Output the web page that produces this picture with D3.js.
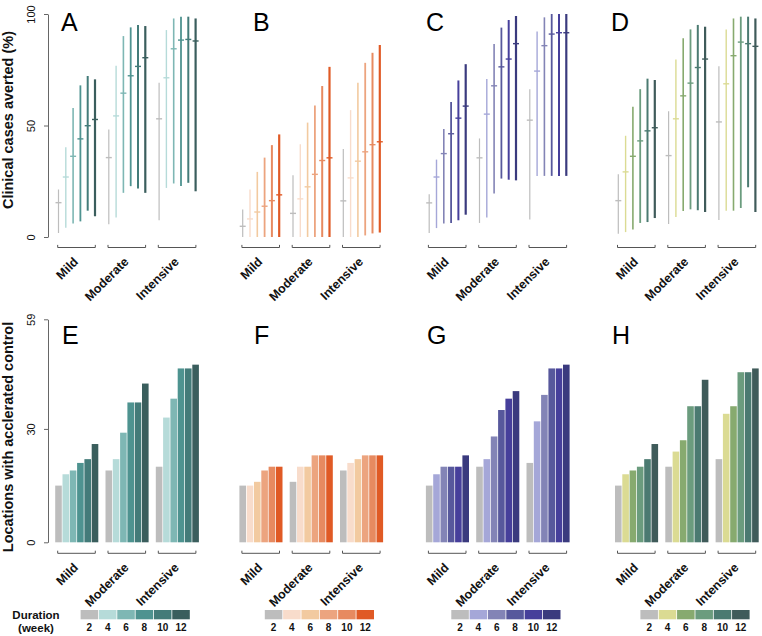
<!DOCTYPE html>
<html><head><meta charset="utf-8">
<script src="https://cdn.jsdelivr.net/npm/d3@7"></script>
<style>body{margin:0;background:#fff}svg{display:block;font-family:"Liberation Sans",Arial,Helvetica,sans-serif}</style>
</head><body><svg id="c" width="762" height="636"></svg>
<script>
// ---------- data ----------
const groups = ["Mild", "Moderate", "Intensive"];
const durations = [2, 4, 6, 8, 10, 12];
const panelLettersTop = ["A", "B", "C", "D"];
const panelLettersBottom = ["E", "F", "G", "H"];
const topTicks = [0, 50, 100];
const bottomTicks = [0, 30, 59];

// Clinical cases averted (%) : median, lower, upper  (per group, per duration)
const midA = [[15.4, 26.9, 36.2, 44.0, 49.9, 52.7], [35.6, 54.3, 64.5, 72.3, 76.5, 80.4], [53.0, 71.4, 84.4, 88.3, 88.6, 87.9]];
const loA  = [[1.8, 4.2, 6.0, 7.0, 11.8, 9.3], [5.7, 8.7, 19.8, 22.8, 21.7, 19.8], [7.5, 22.0, 24.0, 22.9, 24.3, 20.5]];
const hiA  = [[21.3, 40.3, 57.9, 68.0, 72.2, 70.7], [48.2, 76.8, 90.1, 94.0, 95.1, 94.6], [69.2, 92.8, 98.0, 98.8, 98.8, 98.0]];

const midB = [[4.8, 8.1, 11.2, 13.8, 16.3, 18.9], [10.6, 17.1, 22.5, 28.1, 34.3, 35.5], [16.2, 26.5, 34.0, 38.2, 41.4, 42.7]];
const loB  = [[0.0, 0.0, 0.0, 0.0, 0.0, 0.0], [0.0, 0.0, 0.0, 0.0, 0.0, 0.0], [0.0, 0.0, 0.0, 0.7, 1.6, 2.0]];
const hiB  = [[12.3, 21.3, 29.2, 35.6, 41.2, 46.0], [27.7, 41.6, 51.3, 59.0, 67.7, 76.3], [39.5, 56.9, 69.2, 78.1, 82.6, 86.1]];

const midC = [[15.3, 26.9, 37.4, 46.3, 53.3, 58.7], [35.5, 55.1, 67.8, 76.3, 79.8, 86.7], [52.4, 74.4, 85.8, 91.0, 91.6, 91.6]];
const loC  = [[1.8, 4.0, 6.0, 6.3, 7.5, 10.0], [6.3, 8.7, 19.5, 26.2, 25.7, 25.4], [7.9, 27.4, 27.4, 27.4, 27.4, 27.4]];
const hiC  = [[19.2, 34.7, 48.4, 60.5, 70.2, 77.5], [44.2, 70.8, 86.5, 93.9, 97.3, 99.1], [66.2, 92.1, 98.5, 100, 100, 100]];

const midD = [[16.3, 29.2, 36.2, 43.1, 47.6, 49.0], [36.5, 53.0, 63.3, 69.0, 76.0, 79.8], [51.6, 68.7, 81.3, 87.4, 86.7, 85.5]];
const loD  = [[1.5, 2.2, 3.4, 6.3, 6.7, 8.5], [5.8, 9.0, 11.7, 12.4, 12.0, 11.2], [7.6, 11.8, 11.8, 13.0, 22.3, 11.2]];
const hiD  = [[28.1, 45.4, 58.4, 66.3, 71.0, 70.4], [56.4, 79.6, 89.1, 93.1, 95.1, 94.3], [76.6, 93.1, 98.0, 98.8, 98.8, 98.0]];

// Locations with accelerated control (count)
const locE = [[15, 18, 19, 21, 22, 26], [19, 22, 29, 37, 37, 42], [20, 33, 38, 46, 46, 47]];
const locF = [[15, 15, 16, 19, 20, 20], [16, 20, 20, 23, 23, 23], [19, 21, 22, 23, 23, 23]];
const locG = [[15, 18, 20, 20, 20, 23], [20, 22, 28, 35, 38, 40], [21, 32, 39, 46, 46, 47]];
const locH = [[15, 18, 19, 20, 22, 26], [20, 24, 27, 36, 36, 43], [22, 34, 36, 45, 45, 46]];

const tealColors   = ["#bdbdbd", "#b6dbd9", "#7eb7b4", "#4e9390", "#437b79", "#3a5e5d"];
const orangeColors = ["#bdbdbd", "#f8dccb", "#f2caa0", "#eca47f", "#e78a60", "#e05a25"];
const blueColors   = ["#bdbdbd", "#a5a7d8", "#8384b6", "#57589c", "#463f9b", "#3a3a7e"];
const greenColors  = ["#bdbdbd", "#dbdb93", "#87aa6f", "#6b9c7e", "#4b7a71", "#3f5b5a"];

// ---------- layout ----------
const svg = d3.select("#c");
const firstBar = [58.5, 242.7, 429.2, 618.3];
const letterX = [61, 253, 426, 611];
const step = 7.3, groupStep = 50.3;
const yTop = d3.scaleLinear().domain([0, 100]).range([237, 14]);
const yBot = d3.scaleLinear().domain([0, 59]).range([542.3, 319.3]);

const panels = [
  {mid: midA, lo: loA, hi: hiA, loc: locE, col: tealColors},
  {mid: midB, lo: loB, hi: hiB, loc: locF, col: orangeColors},
  {mid: midC, lo: loC, hi: hiC, loc: locG, col: blueColors},
  {mid: midD, lo: loD, hi: hiD, loc: locH, col: greenColors}
];
const lineW = [1.2, 1.4, 1.6, 1.8, 2.0, 2.2];

function drawGroupAxis(g, gx, ix, yb) {
  groups.forEach(gr => {
    const a = gx(gr) + ix(durations[0]) + ix.bandwidth() / 2 - 0.8;
    const b = gx(gr) + ix(durations[5]) + ix.bandwidth() / 2 + 0.3;
    g.append("path").attr("d", `M${a},${yb - 2.6}V${yb}H${b}V${yb - 2.6}`)
      .attr("fill", "none").attr("stroke", "#555").attr("stroke-width", 1);
    const cx = (a + b) / 2;
    g.append("text").attr("transform", `translate(${cx + 2.5},${yb + 15}) rotate(-45)`)
      .attr("text-anchor", "end").attr("font-size", 12.5).attr("font-weight", "bold")
      .attr("fill", "#111").text(gr);
  });
}

panels.forEach((p, pi) => {
  const x0 = firstBar[pi] - step / 2;
  const gx = d3.scaleBand().domain(groups).range([x0, x0 + groupStep * 3 - (groupStep - 6 * step)])
    .paddingInner((groupStep - 6 * step) / groupStep).paddingOuter(0);
  const ix = d3.scaleBand().domain(durations).range([0, gx.bandwidth()]);
  const cx = (gi, di) => gx(groups[gi]) + ix(durations[di]) + ix.bandwidth() / 2;

  // ---- top: ranges ----
  const gt = svg.append("g");
  groups.forEach((gr, gi) => durations.forEach((d, di) => {
    const x = cx(gi, di);
    gt.append("line").attr("x1", x).attr("x2", x)
      .attr("y1", yTop(p.lo[gi][di])).attr("y2", yTop(p.hi[gi][di]))
      .attr("stroke", p.col[di]).attr("stroke-width", lineW[di]);
    gt.append("line").attr("x1", x - 3).attr("x2", x + 3)
      .attr("y1", yTop(p.mid[gi][di])).attr("y2", yTop(p.mid[gi][di]))
      .attr("stroke", p.col[di]).attr("stroke-width", 1.4);
  }));
  drawGroupAxis(gt, gx, ix, 247.5);
  gt.append("text").attr("x", letterX[pi]).attr("y", 31).attr("font-size", 25).attr("fill", "#000").text(panelLettersTop[pi]);

  // ---- bottom: bars ----
  const gb = svg.append("g");
  groups.forEach((gr, gi) => durations.forEach((d, di) => {
    const x = gx(gr) + ix(d);
    const v = p.loc[gi][di];
    gb.append("rect").attr("x", x + 0.35).attr("width", ix.bandwidth() - 0.7)
      .attr("y", yBot(v)).attr("height", yBot(0) - yBot(v)).attr("fill", p.col[di]);
  }));
  drawGroupAxis(gb, gx, ix, 553.3);
  gb.append("text").attr("x", letterX[pi] + 1).attr("y", 344).attr("font-size", 25).attr("fill", "#000").text(panelLettersBottom[pi]);

  // ---- legend ----
  const lx = firstBar[pi] + 21.7;
  const lg = d3.scaleBand().domain(durations).range([lx, lx + 110]);
  const gl = svg.append("g");
  durations.forEach((d, di) => {
    gl.append("rect").attr("x", lg(d) + 0.4).attr("y", 610).attr("width", lg.bandwidth() - 0.8).attr("height", 9.3)
      .attr("fill", p.col[di]);
    gl.append("text").attr("x", lg(d) + lg.bandwidth() / 2).attr("y", 630.5).attr("text-anchor", "middle")
      .attr("font-size", 10).attr("font-weight", "bold").attr("fill", "#111").text(d);
  });
});

// ---- y axes ----
function yAxis(scale, ticks, label, cy) {
  const g = svg.append("g").attr("transform", "translate(48,0)");
  g.call(d3.axisLeft(scale).tickValues(ticks).tickSize(4).tickSizeOuter(0).tickFormat(d3.format("d")));
  g.select(".domain").attr("stroke", "#666");
  g.selectAll(".tick line").attr("stroke", "#666");
  g.selectAll(".tick text").attr("transform", "rotate(-90)").attr("x", 0).attr("y", -13).attr("dy", 0)
    .attr("text-anchor", "middle").attr("font-size", 11).attr("fill", "#111")
    .attr("font-family", '"Liberation Sans",Arial,sans-serif');
  svg.append("text").attr("transform", `translate(13,${cy}) rotate(-90)`).attr("text-anchor", "middle")
    .attr("font-size", 14.5).attr("font-weight", "bold").attr("fill", "#111").text(label);
}
yAxis(yTop, topTicks, "Clinical cases averted (%)", 120);
yAxis(yBot, bottomTicks, "Locations with acclerated control", 437);

// legend title
svg.append("text").attr("x", 36).attr("y", 619).attr("text-anchor", "middle").attr("font-size", 11.5)
  .attr("font-weight", "bold").attr("fill", "#111").text("Duration");
svg.append("text").attr("x", 36).attr("y", 631.5).attr("text-anchor", "middle").attr("font-size", 11.5)
  .attr("font-weight", "bold").attr("fill", "#111").text("(week)");
</script></body></html>
